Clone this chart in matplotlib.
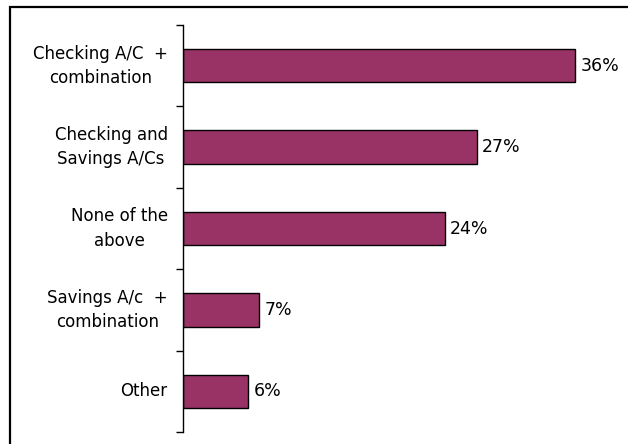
import matplotlib
matplotlib.use("Agg")
import matplotlib.pyplot as plt
from matplotlib.patches import Rectangle

categories = [
    "Checking A/C  +\ncombination",
    "Checking and\nSavings A/Cs",
    "None of the\nabove",
    "Savings A/c  +\ncombination",
    "Other",
]
values = [36, 27, 24, 7, 6]
value_labels = ["36%", "27%", "24%", "7%", "6%"]

BAR_COLOR = "#993366"

W, H = 628, 444
fig = plt.figure(figsize=(W / 100, H / 100), dpi=100)

# outer frame (runs off the right and bottom edges)
fig.patches.append(Rectangle((10 / W, -0.1), 1.2, 1 - 7 / H + 0.1,
                             transform=fig.transFigure, fill=False,
                             edgecolor="black", linewidth=1.6))

ax = fig.add_axes([183 / W, 1 - 432 / H, 436 / W, 407 / H])

n = len(categories)
pos = list(range(n))
ax.barh(pos, values, height=0.41, color=BAR_COLOR, edgecolor="black",
        linewidth=1.0)

for p, v, lab in zip(pos, values, value_labels):
    ax.text(v + 0.45, p, lab, va="center", ha="left", fontsize=12.5)

ax.set_xlim(0, 40)
ax.set_ylim(n - 0.5, -0.5)

# category labels at band centres, tick marks at band boundaries
ax.set_yticks([i - 0.5 for i in range(n + 1)])
ax.set_yticklabels([])
ax.set_yticks(pos, minor=True)
ax.set_yticklabels(categories, minor=True, fontsize=12, va="center",
                   multialignment="center", linespacing=1.45)
ax.tick_params(axis="y", which="major", length=5, width=1, direction="out")
ax.tick_params(axis="y", which="minor", length=0, pad=11)

ax.set_xticks([])
for side in ["top", "right", "bottom"]:
    ax.spines[side].set_visible(False)
ax.spines["left"].set_linewidth(1.0)

fig.savefig("out.png", dpi=100)
